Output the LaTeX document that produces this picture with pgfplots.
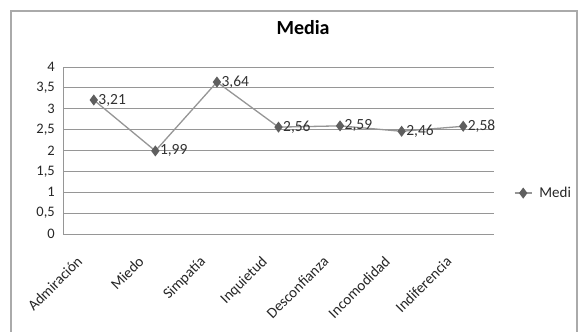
\documentclass[border=0pt]{standalone}
\usepackage{pgfplots}
\pgfplotsset{compat=1.18}
\usepackage{fontspec}
\setmainfont{Carlito}
\definecolor{gridc}{RGB}{150,150,150}
\definecolor{linec}{RGB}{150,150,150}
\definecolor{markc}{RGB}{95,95,95}
\definecolor{framec}{RGB}{170,170,170}
\begin{document}
\begin{tikzpicture}[x=1pt,y=1pt]
\useasboundingbox (0,0) rectangle (581,332);
\fill[white] (0,0) rectangle (581,332);
\draw[framec, line width=1.2pt] (11,-5) -- (11,321) -- (577,321) -- (577,-5);
\begin{axis}[
  at={(63pt,98pt)}, anchor=south west,
  scale only axis, width=431pt, height=167pt,
  xmin=-0.5, xmax=6.5, ymin=0, ymax=4,
  xtick={0,1,2,3,4,5,6},
  xticklabels={Admiración,Miedo,Simpatía,Inquietud,Desconfianza,Incomodidad,Indiferencia},
  xticklabel style={anchor=north east, xshift=-18pt, yshift=-21pt, rotate=45, font=\fontsize{15}{16}\selectfont, text=black!85, inner sep=0pt},
  ytick={0,0.5,1,1.5,2,2.5,3,3.5,4},
  yticklabel style={font=\fontsize{14.5}{15}\selectfont, text=black!85, /pgf/number format/use comma, xshift=-8pt, inner sep=0pt},
  /pgf/number format/assume math mode=true,
  major tick length=0pt,
  ymajorgrids, grid style={gridc, line width=0.9pt},
  axis x line*=bottom, axis y line*=left,
  x axis line style={draw=none},
  y axis line style={gridc, line width=0.9pt},
  title={\textbf{Media}},
  title style={at={(0.557,1.2)}, anchor=center, font=\fontsize{20}{21}\selectfont},
  legend style={at={(1.046,0.245)}, anchor=west, draw=none, fill=none, font=\fontsize{15}{16}\selectfont, text=black!85, inner sep=0pt},
  legend cell align=left,
  clip=false,
]
\addplot[linec, line width=1.3pt, mark=diamond*, mark size=4.5pt, mark options={fill=markc, draw=markc},
  nodes near coords, point meta=explicit,
  every node near coord/.append style={anchor=west, font=\fontsize{15.5}{16}\selectfont, text=black!80, xshift=3pt, inner sep=1pt,
     /pgf/number format/.cd, fixed, fixed zerofill, precision=2, use comma, assume math mode=true}]
coordinates {
 (0,3.21) [3.21]
 (1,1.99) [1.99]
 (2,3.64) [3.64]
 (3,2.56) [2.56]
 (4,2.59) [2.59]
 (5,2.46) [2.46]
 (6,2.58) [2.58]
};
\addlegendentry{\hspace{5pt}Medi}
\end{axis}
\end{tikzpicture}
\end{document}
